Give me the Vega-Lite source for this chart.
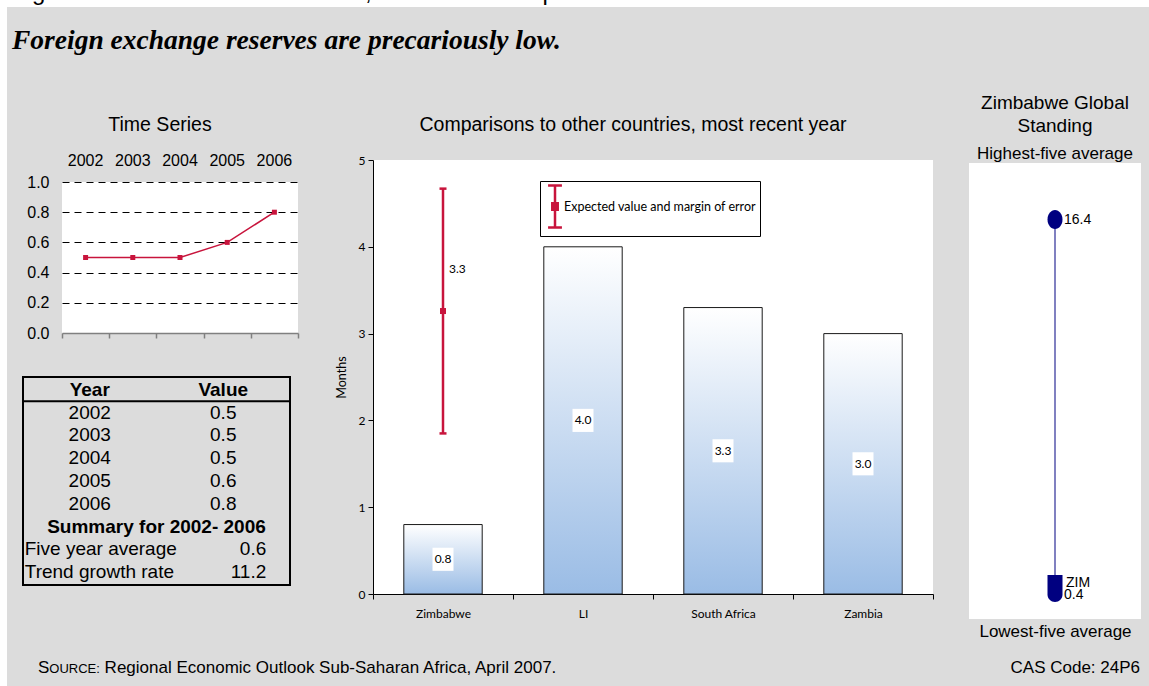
{
  "$schema": "https://vega.github.io/schema/vega-lite/v6.json",
  "padding": 0,
  "background": "#DCDCDC",
  "spacing": 0,
  "bounds": "flush",
  "config": {
    "view": {"stroke": null},
    "font": "Liberation Sans",
    "axis": {"labelColor": "black", "titleColor": "black", "domainColor": "black", "tickColor": "black", "grid": false},
    "title": {"color": "black", "fontWeight": "normal", "font": "Liberation Sans", "subtitleColor": "black", "subtitleFont": "Liberation Sans"}
  },
  "datasets": {
    "series": [
      {"year": 2002, "value": 0.5},
      {"year": 2003, "value": 0.5},
      {"year": 2004, "value": 0.5},
      {"year": 2005, "value": 0.6},
      {"year": 2006, "value": 0.8}
    ],
    "summary": [
      {"stat": "Five year average", "value": 0.6},
      {"stat": "Trend growth rate", "value": 11.2}
    ],
    "countries": [
      {"country": "Zimbabwe", "value": 0.8},
      {"country": "LI", "value": 4.0},
      {"country": "South Africa", "value": 3.3},
      {"country": "Zambia", "value": 3.0}
    ],
    "estimate": [
      {"country": "Zimbabwe", "series": "Expected value and margin of error", "low": 1.85, "estimate": 3.26, "high": 4.67}
    ],
    "standing": [
      {"group": "Highest-five average", "label": "", "value": 16.4},
      {"group": "Lowest-five average", "label": "ZIM", "value": 0.4}
    ]
  },
  "vconcat": [
    {
      "width": 1149, "height": 7,
      "view": {"fill": "white"},
      "data": {"values": [{}]},
      "mark": {"type": "text", "clip": true, "text": "Figure 4: Gross Official Reserves, in Months of Imports", "fontSize": 24, "align": "left", "baseline": "alphabetic", "dx": -562.5, "dy": -3.5, "color": "black"}
    },
    {
      "spacing": 0,
      "bounds": "flush",
      "hconcat": [
        {"width": 7, "height": 679, "view": {"fill": "white"}, "data": {"values": []}, "mark": "point"},
        {
          "columns": 4,
          "spacing": 0,
          "bounds": "flush",
          "align": "each",
          "concat": [
            {
              "width": 366, "height": 153,
              "data": {"values": [{}]},
              "mark": {"type": "text", "text": "Foreign exchange reserves are precariously low.", "font": "Liberation Serif", "fontStyle": "italic", "fontWeight": "bold", "fontSize": 27.5, "align": "left", "baseline": "alphabetic", "dx": -178, "dy": -35, "color": "black"}
            },
            {"width": 560, "height": 1, "data": {"values": []}, "mark": "point"},
            {"width": 36, "height": 1, "data": {"values": []}, "mark": "point"},
            {"width": 172, "height": 1, "data": {"values": []}, "mark": "point"},

            {
              "columns": 3,
              "spacing": 0,
              "bounds": "flush",
              "align": "each",
              "concat": [
                {"width": 16, "height": 22, "data": {"values": []}, "mark": "point"},
                {"width": 39, "height": 1, "data": {"values": []}, "mark": "point"},
                {"width": 1, "height": 1, "data": {"values": []}, "mark": "point"},

                {"width": 1, "height": 151, "data": {"values": []}, "mark": "point"},
                {"width": 1, "height": 1, "data": {"values": []}, "mark": "point"},
                {
                  "width": 236, "height": 151,
                  "view": {"fill": "white"},
                  "data": {"name": "series"},
                  "title": {"text": "Time Series", "fontSize": 19.5, "anchor": "middle", "frame": "group", "dx": -20, "offset": 2, "baseline": "alphabetic"},
                  "encoding": {
                    "y": {"field": "value", "type": "quantitative",
                      "scale": {"domain": [0, 1], "nice": false},
                      "axis": {"values": [0, 0.2, 0.4, 0.6, 0.8, 1], "format": ".1f", "title": null, "domain": false, "ticks": false, "tickSize": 0, "labelPadding": 13, "labelFontSize": 16, "labelFont": "Liberation Sans",
                        "grid": true, "gridColor": "black", "gridDash": [7, 5], "gridWidth": 1,
                        "gridOpacity": {"condition": {"test": "datum.value === 0", "value": 0}, "value": 1}}}
                  },
                  "layer": [
                    {
                      "mark": {"type": "line", "color": "#C8143C", "strokeWidth": 1.5, "point": {"shape": "square", "size": 25, "filled": true, "color": "#C8143C", "opacity": 1}},
                      "encoding": {
                        "x": {"field": "year", "type": "ordinal", "scale": {"type": "band", "paddingInner": 0, "paddingOuter": 0},
                          "axis": {"orient": "top", "title": null, "domain": false, "ticks": false, "tickSize": 0, "labelFontSize": 16, "labelFont": "Liberation Sans", "labelPadding": 14, "labelAngle": 0}}
                      }
                    },
                    {
                      "mark": {"type": "point", "opacity": 0},
                      "encoding": {
                        "x": {"field": "year", "type": "ordinal", "scale": {"type": "band", "paddingInner": 0, "paddingOuter": 0},
                          "axis": {"orient": "bottom", "title": null, "labels": false, "domain": true, "domainColor": "#808080", "domainWidth": 1.5, "ticks": true, "tickColor": "#808080", "tickWidth": 1.5, "tickSize": 5, "tickBand": "extent"}}
                      }
                    }
                  ],
                  "resolve": {"axis": {"x": "independent"}}
                },

                {"width": 1, "height": 44, "data": {"values": []}, "mark": "point"},
                {"width": 1, "height": 1, "data": {"values": []}, "mark": "point"},
                {"width": 1, "height": 1, "data": {"values": []}, "mark": "point"},

                {"width": 1, "height": 1, "data": {"values": []}, "mark": "point"},
                {
                  "vconcat": [
                    {
                      "width": 267, "height": 208,
                      "view": {"stroke": "black", "strokeWidth": 2},
                      "layer": [
                        {
                          "data": {"values": [{"heading": "Year"}, {"heading": "Value"}]},
                          "mark": {"type": "text", "fontSize": 19, "fontWeight": "bold", "baseline": "middle", "color": "black"},
                          "encoding": {
                            "x": {"field": "heading", "type": "nominal", "scale": {"type": "band", "domain": ["Year", "Value"], "paddingInner": 0, "paddingOuter": 0}, "axis": null},
                            "y": {"datum": "Year", "type": "ordinal", "scale": {"type": "point", "domain": ["Year", 2002, 2003, 2004, 2005, 2006, "Summary for 2002- 2006", "Five year average", "Trend growth rate"], "padding": 0.56}, "axis": null},
                            "text": {"field": "heading"}
                          }
                        },
                        {
                          "data": {"values": [{}]},
                          "mark": {"type": "rule", "color": "black", "strokeWidth": 2, "yOffset": 11.4},
                          "encoding": {"y": {"datum": "Year", "type": "ordinal"}}
                        },
                        {
                          "data": {"name": "series"},
                          "mark": {"type": "text", "fontSize": 19, "baseline": "middle", "color": "black"},
                          "encoding": {
                            "x": {"datum": "Year", "type": "nominal"},
                            "y": {"field": "year", "type": "ordinal"},
                            "text": {"field": "year", "type": "nominal"}
                          }
                        },
                        {
                          "data": {"name": "series"},
                          "mark": {"type": "text", "fontSize": 19, "baseline": "middle", "color": "black"},
                          "encoding": {
                            "x": {"datum": "Value", "type": "nominal"},
                            "y": {"field": "year", "type": "ordinal"},
                            "text": {"field": "value", "type": "quantitative", "format": ".1f"}
                          }
                        },
                        {
                          "data": {"values": [{}]},
                          "mark": {"type": "text", "text": "Summary for 2002- 2006", "fontSize": 19, "fontWeight": "bold", "baseline": "middle", "color": "black"},
                          "encoding": {"y": {"datum": "Summary for 2002- 2006", "type": "ordinal"}}
                        },
                        {
                          "data": {"name": "summary"},
                          "mark": {"type": "text", "fontSize": 19, "align": "left", "dx": -65, "baseline": "middle", "color": "black"},
                          "encoding": {
                            "x": {"datum": "Year", "type": "nominal"},
                            "y": {"field": "stat", "type": "ordinal"},
                            "text": {"field": "stat"}
                          }
                        },
                        {
                          "data": {"name": "summary"},
                          "mark": {"type": "text", "fontSize": 19, "align": "right", "dx": 43, "baseline": "middle", "color": "black"},
                          "encoding": {
                            "x": {"datum": "Value", "type": "nominal"},
                            "y": {"field": "stat", "type": "ordinal"},
                            "text": {"field": "value", "type": "quantitative", "format": ".1f"}
                          }
                        }
                      ]
                    }
                  ]
                }
              ]
            },
            {
              "width": 560, "height": 434,
              "view": {"fill": "white"},
              "title": {"text": "Comparisons to other countries, most recent year", "fontSize": 19.5, "anchor": "middle", "frame": "group", "dx": -20, "offset": 4, "baseline": "alphabetic"},
              "layer": [
                {
                  "data": {"name": "countries"},
                  "mark": {"type": "bar", "width": {"band": 0.56}, "stroke": "#1a1a1a", "strokeWidth": 1,
                    "color": {"gradient": "linear", "x1": 0, "y1": 0, "x2": 0, "y2": 1, "stops": [{"offset": 0, "color": "#FFFFFF"}, {"offset": 1, "color": "#9ABCE5"}]}},
                  "encoding": {
                    "x": {"field": "country", "type": "nominal", "sort": null,
                      "scale": {"type": "band", "paddingInner": 0, "paddingOuter": 0},
                      "axis": {"title": null, "labelAngle": 0, "labelFont": "Lato", "labelFontSize": 12, "labelPadding": 9, "tickSize": 5, "tickBand": "extent"}},
                    "y": {"field": "value", "type": "quantitative",
                      "scale": {"domain": [0, 5], "nice": false},
                      "axis": {"values": [0, 1, 2, 3, 4, 5], "format": "d", "title": "Months", "titleFont": "Lato", "titleFontSize": 12.5, "titleFontWeight": "normal", "titlePadding": 10, "labelFont": "Lato", "labelFontSize": 12, "labelPadding": 3, "tickSize": 5}}
                  }
                },
                {
                  "data": {"name": "countries"},
                  "transform": [{"calculate": "datum.value / 2", "as": "mid"}],
                  "mark": {"type": "point", "shape": "M-1,-1.1H1V1.1H-1Z", "size": 441, "filled": true, "color": "white", "opacity": 1, "strokeWidth": 0},
                  "encoding": {
                    "x": {"field": "country", "type": "nominal", "sort": null},
                    "y": {"field": "mid", "type": "quantitative"}
                  }
                },
                {
                  "data": {"name": "countries"},
                  "transform": [{"calculate": "datum.value / 2", "as": "mid"}],
                  "mark": {"type": "text", "font": "Lato", "fontSize": 12, "color": "black", "baseline": "middle"},
                  "encoding": {
                    "x": {"field": "country", "type": "nominal", "sort": null},
                    "y": {"field": "mid", "type": "quantitative"},
                    "text": {"field": "value", "type": "quantitative", "format": ".1f"}
                  }
                },
                {
                  "data": {"name": "estimate"},
                  "mark": {"type": "rule", "color": "#C8143C", "strokeWidth": 2.5},
                  "encoding": {
                    "x": {"field": "country", "type": "nominal", "sort": null},
                    "y": {"field": "low", "type": "quantitative"},
                    "y2": {"field": "high"}
                  }
                },
                {
                  "data": {"name": "estimate"},
                  "mark": {"type": "tick", "color": "#C8143C", "thickness": 2.5, "size": 7, "orient": "horizontal", "opacity": 1},
                  "encoding": {
                    "x": {"field": "country", "type": "nominal", "sort": null},
                    "y": {"field": "low", "type": "quantitative"}
                  }
                },
                {
                  "data": {"name": "estimate"},
                  "mark": {"type": "tick", "color": "#C8143C", "thickness": 2.5, "size": 7, "orient": "horizontal", "opacity": 1},
                  "encoding": {
                    "x": {"field": "country", "type": "nominal", "sort": null},
                    "y": {"field": "high", "type": "quantitative"}
                  }
                },
                {
                  "data": {"name": "estimate"},
                  "mark": {"type": "point", "shape": "square", "filled": true, "size": 36, "opacity": 1},
                  "encoding": {
                    "x": {"field": "country", "type": "nominal", "sort": null},
                    "y": {"field": "estimate", "type": "quantitative"},
                    "color": {"field": "series", "type": "nominal", "scale": {"range": ["#C8143C"]},
                      "legend": {"orient": "none", "legendX": 540, "legendY": 181, "title": null, "fillColor": "white", "strokeColor": "black", "padding": 3,
                        "symbolType": "M-0.83,-1H-0.17M-0.5,-1V1M-0.83,1H-0.17M-0.63,-0.155H-0.37V0.155H-0.63Z",
                        "symbolSize": 1764, "symbolStrokeWidth": 2.5, "symbolStrokeColor": "#C8143C", "symbolFillColor": "#C8143C", "symbolOpacity": 1,
                        "labelFont": "Lato", "labelFontSize": 12.5, "labelOffset": -24, "labelColor": "black", "labelLimit": 400,
                        "encode": {"symbols": {"update": {"stroke": {"value": "#C8143C"}, "strokeWidth": {"value": 2.5}, "fill": {"value": "#C8143C"}, "opacity": {"value": 1}}}}}}
                  }
                },
                {
                  "data": {"name": "estimate"},
                  "mark": {"type": "text", "align": "left", "baseline": "middle", "dx": 6, "dy": -42, "font": "Lato", "fontSize": 12, "color": "black"},
                  "encoding": {
                    "x": {"field": "country", "type": "nominal", "sort": null},
                    "y": {"field": "estimate", "type": "quantitative"},
                    "text": {"field": "estimate", "type": "quantitative", "format": ".1f"}
                  }
                }
              ]
            },
            {"width": 1, "height": 1, "data": {"values": []}, "mark": "point"},
            {
              "spacing": 0,
              "bounds": "flush",
              "vconcat": [
                {"width": 172, "height": 3, "data": {"values": []}, "mark": "point"},
                {
                  "width": 172, "height": 456,
                  "view": {"fill": "white"},
                  "data": {"name": "standing"},
                  "title": {"text": ["Zimbabwe Global", "Standing"], "subtitle": "Highest-five average", "fontSize": 19, "subtitleFontSize": 17, "lineHeight": 23, "subtitlePadding": 10, "anchor": "middle", "frame": "group", "offset": 1},
                  "encoding": {
                    "x": {"datum": "Zimbabwe", "type": "nominal", "scale": {"type": "point", "padding": 0.5},
                      "axis": {"title": "Lowest-five average", "labels": false, "ticks": false, "domain": false, "titleFontSize": 17, "titleFont": "Liberation Sans", "titleFontWeight": "normal", "titlePadding": 4}}
                  },
                  "layer": [
                    {
                      "mark": {"type": "rule", "color": "#8080C0", "strokeWidth": 2},
                      "encoding": {
                        "y": {"aggregate": "min", "field": "value", "type": "quantitative", "scale": {"domain": [-0.92, 18.85], "nice": false, "zero": false}, "axis": null},
                        "y2": {"aggregate": "max", "field": "value"}
                      }
                    },
                    {
                      "transform": [{"filter": "datum.group === 'Highest-five average'"}],
                      "mark": {"type": "point", "shape": "M-1,0A1,1.27,0,1,1,1,0A1,1.27,0,1,1,-1,0Z", "size": 225, "filled": true, "color": "#000080", "opacity": 1},
                      "encoding": {"y": {"field": "value", "type": "quantitative"}}
                    },
                    {
                      "transform": [{"filter": "datum.label === 'ZIM'"}],
                      "mark": {"type": "point", "shape": "M-1,-1.8H1V0.8A1,1,0,0,1,-1,0.8Z", "size": 225, "filled": true, "color": "#000080", "opacity": 1},
                      "encoding": {"y": {"field": "value", "type": "quantitative"}}
                    },
                    {
                      "transform": [{"filter": "datum.group === 'Highest-five average'"}],
                      "mark": {"type": "text", "align": "left", "baseline": "middle", "dx": 9, "font": "Liberation Sans Narrow, Liberation Sans", "fontSize": 14, "color": "black"},
                      "encoding": {"y": {"field": "value", "type": "quantitative"}, "text": {"field": "value", "type": "quantitative", "format": ".1f"}}
                    },
                    {
                      "transform": [{"filter": "datum.label === 'ZIM'"}],
                      "mark": {"type": "text", "align": "left", "baseline": "middle", "dx": 11, "dy": -6, "font": "Liberation Sans Narrow, Liberation Sans", "fontSize": 14, "color": "black"},
                      "encoding": {"y": {"field": "value", "type": "quantitative"}, "text": {"field": "label"}}
                    },
                    {
                      "transform": [{"filter": "datum.label === 'ZIM'"}],
                      "mark": {"type": "text", "align": "left", "baseline": "middle", "dx": 9, "dy": 6, "font": "Liberation Sans Narrow, Liberation Sans", "fontSize": 14, "color": "black"},
                      "encoding": {"y": {"field": "value", "type": "quantitative"}, "text": {"field": "value", "type": "quantitative", "format": ".1f"}}
                    }
                  ]
                }
              ]
            },

            {"width": 1, "height": 25, "data": {"values": []}, "mark": "point"},
            {"width": 1, "height": 1, "data": {"values": []}, "mark": "point"},
            {"width": 1, "height": 1, "data": {"values": []}, "mark": "point"},
            {"width": 1, "height": 1, "data": {"values": []}, "mark": "point"},

            {
              "width": 366, "height": 67,
              "data": {"values": [{}]},
              "layer": [
                {"mark": {"type": "text", "text": "S", "fontSize": 17, "align": "left", "baseline": "alphabetic", "dx": -152, "dy": 20.5, "color": "black"}},
                {"mark": {"type": "text", "text": "OURCE:", "fontSize": 13, "align": "left", "baseline": "alphabetic", "dx": -140.7, "dy": 20.5, "color": "black"}},
                {"mark": {"type": "text", "text": "Regional Economic Outlook Sub-Saharan Africa, April 2007.", "fontSize": 17, "align": "left", "baseline": "alphabetic", "dx": -85.4, "dy": 20.5, "color": "black"}}
              ]
            },
            {"width": 1, "height": 1, "data": {"values": []}, "mark": "point"},
            {"width": 1, "height": 1, "data": {"values": []}, "mark": "point"},
            {
              "width": 172, "height": 67,
              "data": {"values": [{}]},
              "mark": {"type": "text", "text": "CAS Code: 24P6", "fontSize": 17, "align": "right", "baseline": "alphabetic", "dx": 85, "dy": 20.5, "color": "black"}
            }
          ]
        }
      ]
    }
  ]
}
